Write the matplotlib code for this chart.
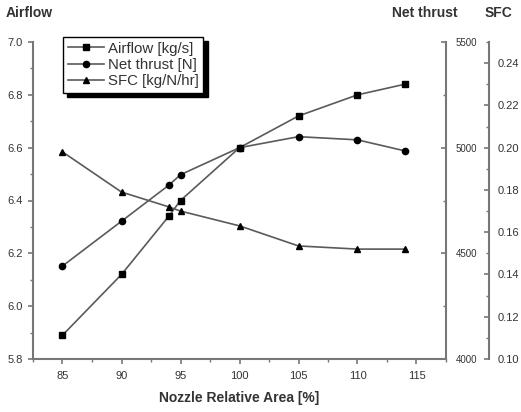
import matplotlib
matplotlib.use("Agg")
import matplotlib.pyplot as plt
from matplotlib.ticker import MultipleLocator, FormatStrFormatter

area = [85, 90, 94, 95, 100, 105, 110, 114]
airflow = [5.89, 6.12, 6.34, 6.40, 6.60, 6.72, 6.80, 6.84]
thrust = [4440, 4652, 4822, 4872, 5000, 5052, 5037, 4985]
sfc = [0.198, 0.179, 0.172, 0.170, 0.163, 0.1535, 0.152, 0.152]

plt.rcParams['font.family'] = ['Liberation Sans', 'DejaVu Sans']
TXT = '#333333'
SPN = '#777777'
LC = '#5a5a5a'

fig = plt.figure(figsize=(5.21, 4.12), dpi=100)
W, H = 521, 412
ax = fig.add_axes([33 / W, 1 - 359 / H, (446 - 33) / W, (359 - 42) / H])
ax2 = ax.twinx()
ax3 = ax.twinx()
ax3.spines['right'].set_position(('axes', (489 - 33) / (446 - 33)))

ax.set_xlim(82.5, 117.5)
ax.set_ylim(5.8, 7.0)
ax2.set_ylim(4000, 5500)
ax3.set_ylim(0.10, 0.25)

mk = dict(color=LC, lw=1.2, markerfacecolor='black', markeredgecolor='black', markersize=4.5)
l1, = ax.plot(area, airflow, marker='s', label='Airflow [kg/s]', **mk)
l2, = ax2.plot(area, thrust, marker='o', label='Net thrust [N]', **mk)
l3, = ax3.plot(area, sfc, marker='^', label='SFC [kg/N/hr]', **mk)

for a in (ax, ax2, ax3):
    for s in a.spines.values():
        s.set_visible(False)
    a.patch.set_visible(False)

ax.spines['left'].set_visible(True)
ax.spines['bottom'].set_visible(True)
ax2.spines['right'].set_visible(True)
ax3.spines['right'].set_visible(True)
for s in (ax.spines['left'], ax.spines['bottom'], ax2.spines['right'], ax3.spines['right']):
    s.set_color(SPN)
    s.set_linewidth(1.5)

ax.xaxis.set_major_locator(MultipleLocator(5))
ax.xaxis.set_minor_locator(MultipleLocator(2.5))
ax.yaxis.set_major_locator(MultipleLocator(0.2))
ax.yaxis.set_minor_locator(MultipleLocator(0.1))
ax.yaxis.set_major_formatter(FormatStrFormatter('%.1f'))
ax2.yaxis.set_major_locator(MultipleLocator(500))
ax2.yaxis.set_minor_locator(MultipleLocator(250))
ax3.yaxis.set_major_locator(MultipleLocator(0.02))
ax3.yaxis.set_minor_locator(MultipleLocator(0.01))
ax3.yaxis.set_major_formatter(FormatStrFormatter('%.2f'))

ax.tick_params(axis='both', which='major', direction='out', length=3.5, width=1.2,
               color=SPN, labelcolor=TXT, labelsize=8)
ax.tick_params(axis='both', which='minor', direction='out', length=2, width=1.0, color=SPN)
ax.tick_params(axis='x', pad=5)
ax.tick_params(axis='y', pad=4)
for a, pad in ((ax2, 7), (ax3, 6)):
    a.tick_params(axis='y', which='major', direction='in', length=3.5, width=1.2,
                  color=SPN, labelcolor=TXT, labelsize=8, pad=pad)
    a.tick_params(axis='y', which='minor', direction='in', length=2, width=1.0, color=SPN)
ax2.tick_params(axis='y', labelsize=7)

ax.set_xlabel('Nozzle Relative Area [%]', fontsize=10, fontweight='bold', color=TXT, labelpad=7)

fig.text(6 / W, 1 - 13 / H, 'Airflow', fontsize=10, fontweight='bold', color=TXT, ha='left', va='center')
fig.text(392 / W, 1 - 13 / H, 'Net thrust', fontsize=10, fontweight='bold', color=TXT, ha='left', va='center')
fig.text(485 / W, 1 - 13 / H, 'SFC', fontsize=10, fontweight='bold', color=TXT, ha='left', va='center')

leg = ax.legend(handles=[l1, l2, l3], loc='upper left',
                bbox_to_anchor=(63 / W, 1 - 37 / H), bbox_transform=fig.transFigure,
                borderaxespad=0, fancybox=False, frameon=True, edgecolor='black', fontsize=10.8,
                handlelength=2.4, handletextpad=0.3, borderpad=0.3, labelspacing=0.15,
                shadow={'color': 'black', 'alpha': 1.0, 'ox': 3, 'oy': -3})
leg.get_frame().set_linewidth(1.0)
for t in leg.get_texts():
    t.set_color(TXT)

fig.savefig('out.png', dpi=100)
